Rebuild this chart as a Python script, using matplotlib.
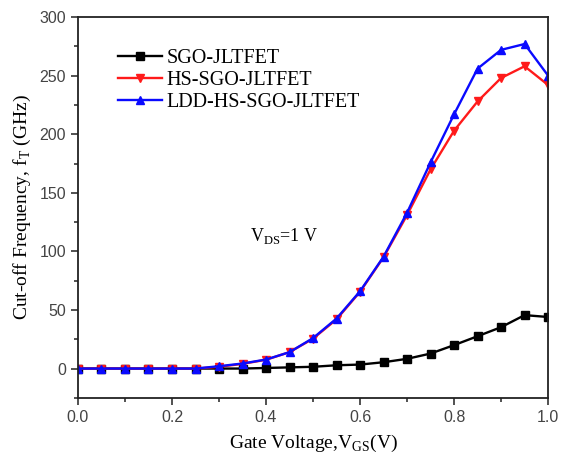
import matplotlib
matplotlib.use("Agg")
import matplotlib.pyplot as plt
from matplotlib.ticker import MultipleLocator

vgs = [0.0, 0.05, 0.1, 0.15, 0.2, 0.25, 0.3, 0.35, 0.4, 0.45, 0.5,
       0.55, 0.6, 0.65, 0.7, 0.75, 0.8, 0.85, 0.9, 0.95, 1.0]
ft_sgo = [0, 0, 0, 0, 0, 0, 0, 0, 0.5, 1, 1.5,
          2.8, 3.4, 5.4, 8.3, 12.8, 20, 27.6, 35.3, 45.6, 44]
ft_hs = [0, 0, 0, 0, 0, 0, 1.5, 4, 7.5, 14, 25.5,
         42, 65.5, 95, 131, 170, 203, 228, 248, 258, 242]
ft_ldd = [0, 0, 0, 0, 0, 0, 2, 4.3, 7.7, 14, 26,
          42.7, 66, 95.5, 133, 176, 217, 256, 272, 277, 250]

labels = ["SGO-JLTFET", "HS-SGO-JLTFET", "LDD-HS-SGO-JLTFET"]

serif = ["Liberation Serif", "DejaVu Serif"]
sans = ["Liberation Sans", "DejaVu Sans"]

fig = plt.figure(figsize=(5.61, 4.61), dpi=100)
ax = fig.add_axes([0.139, 0.137, 0.838, 0.826])

ax.plot(vgs, ft_sgo, color="black", marker="s", ms=5.5, lw=1.7, label=labels[0])
ax.plot(vgs, ft_hs, color="#ff1a1a", marker="v", ms=6, lw=1.7, label=labels[1])
ax.plot(vgs, ft_ldd, color="#0a0aff", marker="^", ms=6, lw=1.7, label=labels[2])

ax.set_xlim(0, 1.0)
ax.set_ylim(-25, 300)
ax.xaxis.set_major_locator(MultipleLocator(0.2))
ax.xaxis.set_minor_locator(MultipleLocator(0.1))
ax.yaxis.set_major_locator(MultipleLocator(50))
ax.yaxis.set_minor_locator(MultipleLocator(25))
ax.tick_params(which="both", direction="out", top=False, right=False,
               width=1.2, colors="#333333", labelcolor="#444444")
ax.tick_params(which="major", length=5, labelsize=11.5)
ax.tick_params(which="minor", length=3)
for lab in ax.get_xticklabels() + ax.get_yticklabels():
    lab.set_family(sans)
ax.set_xticklabels([f"{v:.1f}" for v in ax.get_xticks()])

for sp in ax.spines.values():
    sp.set_linewidth(1.3)
    sp.set_color("#222222")

ax.set_xlabel("Gate Voltage,V$_{\\mathregular{GS}}$(V)", family=serif, fontsize=14, labelpad=6)
ax.set_ylabel("Cut-off Frequency, f$_{\\mathregular{T}}$ (GHz)", family=serif, fontsize=14, labelpad=5)

ax.text(0.366, 113, "V$_{\\mathregular{DS}}$=1 V", family=serif, fontsize=13, ha="left", va="center")

leg = ax.legend(loc="upper left", bbox_to_anchor=(0.085, 0.917), frameon=False,
                prop={"family": serif, "size": 14.5}, handlelength=2.2,
                labelspacing=0.14, handletextpad=0.2, borderaxespad=0,
                borderpad=0)

fig.savefig("out.png", dpi=100)
